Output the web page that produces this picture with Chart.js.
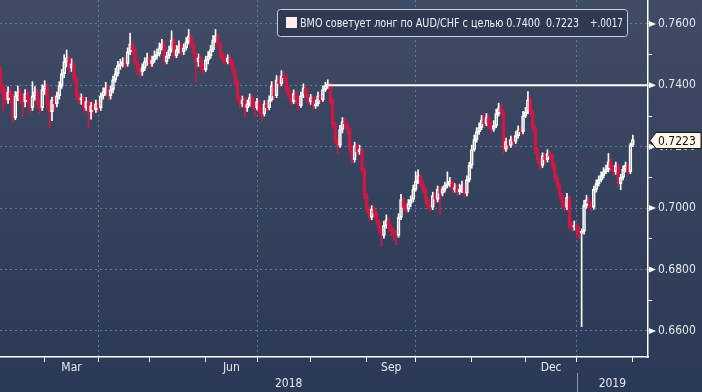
<!DOCTYPE html>
<html><head><meta charset="utf-8">
<script src="https://cdn.jsdelivr.net/npm/chart.js@4/dist/chart.umd.min.js"></script>
<style>html,body{margin:0;padding:0;background:#2b3a56;overflow:hidden}canvas{display:block}</style>
</head><body>
<canvas id="c" width="702" height="392"></canvas>
<script>
// ---- DATA (daily AUD/CHF, trading days from 5 Feb 2018 to 1 Feb 2019) ----
const seriesTitle = 'BMO советует лонг по AUD/CHF с целью 0.7400';
const targetLevel = 0.7400;
const targetStartIdx = 134;
const opens = [
0.7444,0.7392,0.7369,0.7353,0.7379,0.7360,0.7295,0.7366,0.7379,0.7363,
0.7347,0.7373,0.7353,0.7327,0.7366,0.7379,0.7340,0.7327,0.7386,0.7399,
0.7340,0.7314,0.7353,0.7340,0.7366,0.7399,0.7438,0.7477,0.7490,0.7457,
0.7470,0.7425,0.7366,0.7353,0.7360,0.7327,0.7347,0.7314,0.7334,0.7321,
0.7340,0.7327,0.7366,0.7379,0.7392,0.7366,0.7386,0.7418,0.7438,0.7464,
0.7470,0.7477,0.7470,0.7509,0.7535,0.7516,0.7477,0.7451,0.7444,0.7457,
0.7477,0.7490,0.7470,0.7483,0.7496,0.7503,0.7522,0.7535,0.7477,0.7496,
0.7516,0.7548,0.7496,0.7516,0.7529,0.7509,0.7522,0.7542,0.7561,0.7535,
0.7503,0.7477,0.7490,0.7464,0.7451,0.7483,0.7496,0.7516,0.7548,0.7561,
0.7535,0.7496,0.7483,0.7477,0.7490,0.7477,0.7451,0.7412,0.7360,0.7340,
0.7353,0.7327,0.7340,0.7360,0.7340,0.7327,0.7347,0.7314,0.7308,0.7340,
0.7327,0.7353,0.7399,0.7366,0.7418,0.7405,0.7431,0.7425,0.7386,0.7366,
0.7347,0.7373,0.7353,0.7334,0.7366,0.7392,0.7366,0.7347,0.7360,0.7334,
0.7340,0.7366,0.7353,0.7386,0.7399,0.7405,0.7353,0.7275,0.7223,0.7204,
0.7256,0.7282,0.7275,0.7256,0.7191,0.7158,0.7204,0.7184,0.7191,0.7126,
0.7041,0.6996,0.6970,0.6996,0.6983,0.6957,0.6931,0.6911,0.6944,0.6963,
0.6937,0.6924,0.6918,0.6911,0.6970,0.7028,0.7002,0.6996,0.7015,0.7028,
0.7061,0.7087,0.7106,0.7080,0.7061,0.7028,0.7009,0.7002,0.7041,0.7028,
0.7061,0.7048,0.7061,0.7074,0.7080,0.7087,0.7061,0.7067,0.7054,0.7061,
0.7074,0.7048,0.7093,0.7139,0.7191,0.7223,0.7249,0.7262,0.7288,0.7275,
0.7295,0.7275,0.7256,0.7269,0.7308,0.7327,0.7314,0.7191,0.7217,0.7204,
0.7223,0.7217,0.7236,0.7256,0.7249,0.7301,0.7314,0.7353,0.7314,0.7262,
0.7191,0.7158,0.7139,0.7171,0.7158,0.7178,0.7171,0.7139,0.7100,0.7074,
0.7041,0.7015,0.7002,0.7035,0.6944,0.6937,0.6944,0.6931,0.6918,0.6924,
0.7009,0.7028,0.7015,0.7002,0.7061,0.7080,0.7093,0.7106,0.7119,0.7126,
0.7152,0.7132,0.7119,0.7139,0.7080,0.7100,0.7126,0.7139,0.7119,0.7206];
const closes = [
0.7392,0.7369,0.7353,0.7379,0.7360,0.7295,0.7366,0.7379,0.7363,0.7347,
0.7373,0.7353,0.7327,0.7366,0.7379,0.7340,0.7327,0.7386,0.7399,0.7340,
0.7314,0.7353,0.7340,0.7366,0.7399,0.7438,0.7477,0.7490,0.7457,0.7470,
0.7425,0.7366,0.7353,0.7360,0.7327,0.7347,0.7314,0.7334,0.7321,0.7340,
0.7327,0.7366,0.7379,0.7392,0.7366,0.7386,0.7418,0.7438,0.7464,0.7470,
0.7477,0.7470,0.7509,0.7535,0.7516,0.7477,0.7451,0.7444,0.7457,0.7477,
0.7490,0.7470,0.7483,0.7496,0.7503,0.7522,0.7535,0.7477,0.7496,0.7516,
0.7548,0.7496,0.7516,0.7529,0.7509,0.7522,0.7542,0.7561,0.7535,0.7503,
0.7477,0.7490,0.7464,0.7451,0.7483,0.7496,0.7516,0.7548,0.7561,0.7535,
0.7496,0.7483,0.7477,0.7490,0.7477,0.7451,0.7412,0.7360,0.7340,0.7353,
0.7327,0.7340,0.7360,0.7340,0.7327,0.7347,0.7314,0.7308,0.7340,0.7327,
0.7353,0.7399,0.7366,0.7418,0.7405,0.7431,0.7425,0.7386,0.7366,0.7347,
0.7373,0.7353,0.7334,0.7366,0.7392,0.7366,0.7347,0.7360,0.7334,0.7340,
0.7366,0.7353,0.7386,0.7399,0.7405,0.7353,0.7275,0.7223,0.7204,0.7256,
0.7282,0.7275,0.7256,0.7191,0.7158,0.7204,0.7184,0.7191,0.7126,0.7041,
0.6996,0.6970,0.6996,0.6983,0.6957,0.6931,0.6911,0.6944,0.6963,0.6937,
0.6924,0.6918,0.6911,0.6970,0.7028,0.7002,0.6996,0.7015,0.7028,0.7061,
0.7087,0.7106,0.7080,0.7061,0.7028,0.7009,0.7002,0.7041,0.7028,0.7061,
0.7048,0.7061,0.7074,0.7080,0.7087,0.7061,0.7067,0.7054,0.7061,0.7074,
0.7048,0.7093,0.7139,0.7191,0.7223,0.7249,0.7262,0.7288,0.7275,0.7295,
0.7275,0.7256,0.7269,0.7308,0.7327,0.7314,0.7191,0.7217,0.7204,0.7223,
0.7217,0.7236,0.7256,0.7249,0.7301,0.7314,0.7353,0.7314,0.7262,0.7191,
0.7158,0.7139,0.7171,0.7158,0.7178,0.7171,0.7139,0.7100,0.7074,0.7041,
0.7015,0.7002,0.7035,0.6944,0.6937,0.6944,0.6931,0.6918,0.6924,0.7009,
0.7028,0.7015,0.7002,0.7061,0.7080,0.7093,0.7106,0.7119,0.7126,0.7152,
0.7132,0.7119,0.7139,0.7080,0.7100,0.7126,0.7139,0.7119,0.7206,0.7223];
const highs = [
0.7462,0.7405,0.7388,0.7395,0.7392,0.7372,0.7380,0.7398,0.7390,0.7371,
0.7386,0.7382,0.7360,0.7412,0.7396,0.7388,0.7352,0.7402,0.7415,0.7405,
0.7348,0.7362,0.7370,0.7378,0.7412,0.7452,0.7500,0.7515,0.7498,0.7486,
0.7478,0.7430,0.7375,0.7372,0.7366,0.7360,0.7352,0.7345,0.7348,0.7352,
0.7350,0.7375,0.7392,0.7410,0.7400,0.7398,0.7430,0.7455,0.7478,0.7485,
0.7490,0.7492,0.7522,0.7570,0.7545,0.7522,0.7482,0.7460,0.7470,0.7490,
0.7505,0.7498,0.7495,0.7512,0.7518,0.7538,0.7550,0.7545,0.7508,0.7528,
0.7578,0.7555,0.7530,0.7545,0.7538,0.7535,0.7556,0.7582,0.7568,0.7540,
0.7510,0.7502,0.7496,0.7472,0.7495,0.7510,0.7530,0.7562,0.7582,0.7568,
0.7540,0.7505,0.7495,0.7500,0.7498,0.7482,0.7458,0.7418,0.7368,0.7365,
0.7360,0.7352,0.7372,0.7368,0.7350,0.7358,0.7352,0.7325,0.7350,0.7348,
0.7366,0.7412,0.7405,0.7432,0.7428,0.7448,0.7446,0.7432,0.7395,0.7375,
0.7385,0.7380,0.7362,0.7378,0.7405,0.7398,0.7372,0.7370,0.7366,0.7352,
0.7378,0.7375,0.7398,0.7410,0.7418,0.7410,0.7358,0.7280,0.7230,0.7270,
0.7295,0.7292,0.7282,0.7262,0.7198,0.7215,0.7212,0.7205,0.7196,0.7132,
0.7048,0.7005,0.7008,0.7004,0.6990,0.6962,0.6938,0.6958,0.6978,0.6970,
0.6945,0.6935,0.6928,0.6982,0.7045,0.7035,0.7015,0.7028,0.7040,0.7075,
0.7118,0.7125,0.7112,0.7088,0.7068,0.7035,0.7018,0.7052,0.7050,0.7072,
0.7070,0.7070,0.7085,0.7118,0.7100,0.7092,0.7080,0.7075,0.7078,0.7088,
0.7082,0.7105,0.7150,0.7205,0.7238,0.7262,0.7278,0.7302,0.7310,0.7308,
0.7302,0.7282,0.7285,0.7322,0.7342,0.7338,0.7320,0.7228,0.7225,0.7235,
0.7232,0.7250,0.7268,0.7265,0.7315,0.7328,0.7380,0.7362,0.7320,0.7268,
0.7198,0.7165,0.7180,0.7178,0.7190,0.7185,0.7176,0.7145,0.7105,0.7080,
0.7048,0.7022,0.7048,0.7040,0.6955,0.6958,0.6950,0.6940,0.6932,0.7025,
0.7042,0.7035,0.7020,0.7072,0.7092,0.7105,0.7118,0.7132,0.7140,0.7178,
0.7160,0.7140,0.7150,0.7145,0.7110,0.7138,0.7150,0.7145,0.7212,0.7238];
const lows = [
0.7378,0.7315,0.7336,0.7341,0.7344,0.7282,0.7288,0.7350,0.7338,0.7298,
0.7330,0.7340,0.7310,0.7318,0.7352,0.7325,0.7308,0.7318,0.7370,0.7322,
0.7262,0.7285,0.7320,0.7330,0.7355,0.7390,0.7425,0.7460,0.7440,0.7445,
0.7410,0.7355,0.7340,0.7338,0.7312,0.7318,0.7262,0.7290,0.7305,0.7312,
0.7315,0.7318,0.7355,0.7368,0.7350,0.7355,0.7375,0.7410,0.7430,0.7452,
0.7460,0.7458,0.7462,0.7500,0.7500,0.7465,0.7435,0.7425,0.7432,0.7448,
0.7465,0.7458,0.7462,0.7475,0.7485,0.7495,0.7515,0.7465,0.7470,0.7488,
0.7508,0.7485,0.7490,0.7505,0.7498,0.7500,0.7515,0.7535,0.7522,0.7490,
0.7412,0.7462,0.7450,0.7438,0.7445,0.7470,0.7488,0.7510,0.7540,0.7525,
0.7488,0.7475,0.7468,0.7470,0.7466,0.7440,0.7400,0.7348,0.7325,0.7330,
0.7295,0.7315,0.7332,0.7326,0.7300,0.7320,0.7300,0.7282,0.7300,0.7315,
0.7320,0.7348,0.7355,0.7360,0.7395,0.7398,0.7412,0.7375,0.7355,0.7335,
0.7340,0.7340,0.7320,0.7328,0.7360,0.7355,0.7335,0.7338,0.7322,0.7325,
0.7332,0.7342,0.7348,0.7380,0.7390,0.7340,0.7262,0.7210,0.7178,0.7198,
0.7245,0.7262,0.7242,0.7180,0.7145,0.7150,0.7172,0.7175,0.7115,0.7030,
0.6985,0.6958,0.6962,0.6970,0.6945,0.6918,0.6875,0.6902,0.6935,0.6925,
0.6910,0.6895,0.6880,0.6905,0.6962,0.6990,0.6985,0.6988,0.7005,0.7020,
0.7055,0.7080,0.7070,0.7050,0.7015,0.6996,0.6990,0.6995,0.7015,0.7020,
0.6978,0.7040,0.7052,0.7066,0.7070,0.7050,0.7052,0.7042,0.7045,0.7050,
0.7035,0.7040,0.7085,0.7130,0.7185,0.7215,0.7240,0.7255,0.7262,0.7268,
0.7260,0.7245,0.7250,0.7262,0.7300,0.7305,0.7180,0.7185,0.7195,0.7198,
0.7205,0.7210,0.7228,0.7240,0.7242,0.7295,0.7308,0.7305,0.7250,0.7180,
0.7145,0.7125,0.7132,0.7145,0.7150,0.7160,0.7128,0.7090,0.7062,0.7030,
0.7002,0.6990,0.6995,0.6932,0.6925,0.6928,0.6905,0.6900,0.6614,0.6915,
0.7000,0.7005,0.6990,0.6996,0.7052,0.7072,0.7085,0.7098,0.7112,0.7118,
0.7122,0.7108,0.7110,0.7070,0.7060,0.7092,0.7118,0.7110,0.7112,0.7200];
// axis categories (trading-day index of the first trading day of each month)
const monthNames    = ['Mar','Apr','May','Jun','Jul','Aug','Sep','Oct','Nov','Dec','Jan','Feb'];
const monthStartIdx = [18, 40, 61, 84, 105, 127, 150, 170, 193, 215, 236, 259];
const labeledMonths = ['Mar','Jun','Sep','Dec'];
const quarterStartIdx = [40, 105, 170, 236];
const yearNames = ['2018','2019'];
const yearStartIdx = [0, 236];
const yTickValues = [0.66,0.67,0.68,0.69,0.70,0.71,0.72,0.73,0.74,0.75,0.76];

// ---- styling ----
const X_MIN = -0.3, X_MAX = 265.2, Y_MIN = 0.6515, Y_MAX = 0.7678;
const RED = '#d01844';
const WHITE = '#ffffff';
const GRID = 'rgba(110,140,180,0.75)';
const TXT = '#e6e9ef';
const FAM = "'DejaVu Sans Condensed','Liberation Sans Narrow','DejaVu Sans',sans-serif";

const N = closes.length;
const idx = closes.map((_, i) => i);
const isUp = i => closes[i] >= opens[i];
const isMajorY = v => Math.round(v * 100) % 2 === 0;

const bodyData  = idx.map(i => ({x: i, y: [opens[i], closes[i]]}));
const upperData = idx.map(i => ({x: i, y: [Math.max(opens[i], closes[i]), highs[i]]}));
const lowerData = idx.map(i => ({x: i, y: [lows[i], Math.min(opens[i], closes[i])]}));
const colorOf = c => isUp(c.dataIndex) ? WHITE : RED;
const noPad = s => { s.paddingTop = 0; s.paddingBottom = 0; s.paddingLeft = 0; s.paddingRight = 0; };

const bgPlugin = {
  id: 'bg',
  beforeDraw(chart) {
    const {ctx, width, height} = chart;
    const g = ctx.createLinearGradient(0, 0, 0, height);
    g.addColorStop(0, '#404b65');
    g.addColorStop(1, '#2a3956');
    ctx.save(); ctx.fillStyle = g; ctx.fillRect(0, 0, width, height); ctx.restore();
  }
};

const decorPlugin = {
  id: 'decor',
  afterDraw(chart) {
    const {ctx, chartArea: ca, scales: {x, y}} = chart;
    ctx.save();
    ctx.fillStyle = WHITE;
    yTickValues.forEach(v => {
      if (!isMajorY(v)) return;
      const py = y.getPixelForValue(v);
      ctx.beginPath();
      ctx.moveTo(ca.right + 1, py - 3);
      ctx.lineTo(ca.right + 8, py);
      ctx.lineTo(ca.right + 1, py + 3);
      ctx.closePath(); ctx.fill();
    });
    ctx.font = '12px ' + FAM;
    ctx.fillStyle = TXT;
    ctx.textAlign = 'center';
    ctx.textBaseline = 'middle';
    labeledMonths.forEach(m => {
      const k = monthNames.indexOf(m);
      const c = (monthStartIdx[k] + monthStartIdx[k + 1]) / 2;
      ctx.fillText(m, x.getPixelForValue(c), ca.bottom + 11);
    });
    yearNames.forEach((yr, k) => {
      const s = yearStartIdx[k];
      const e = k + 1 < yearStartIdx.length ? yearStartIdx[k + 1] : X_MAX;
      ctx.fillText(yr, x.getPixelForValue((s + e) / 2), ca.bottom + 27);
      if (k > 0) {
        const px = Math.round(x.getPixelForValue(s)) + 0.5;
        ctx.strokeStyle = '#8d97ab'; ctx.lineWidth = 1;
        ctx.beginPath(); ctx.moveTo(px, ca.bottom + 16); ctx.lineTo(px, chart.height); ctx.stroke();
      }
    });
    const bx = 277.5, by = 9.5, bw = 350, bh = 27, r = 3;
    ctx.beginPath();
    ctx.moveTo(bx + r, by); ctx.lineTo(bx + bw - r, by); ctx.quadraticCurveTo(bx + bw, by, bx + bw, by + r);
    ctx.lineTo(bx + bw, by + bh - r); ctx.quadraticCurveTo(bx + bw, by + bh, bx + bw - r, by + bh);
    ctx.lineTo(bx + r, by + bh); ctx.quadraticCurveTo(bx, by + bh, bx, by + bh - r);
    ctx.lineTo(bx, by + r); ctx.quadraticCurveTo(bx, by, bx + r, by);
    ctx.closePath();
    ctx.fillStyle = '#2f3a52'; ctx.fill();
    ctx.strokeStyle = '#c9ced8'; ctx.lineWidth = 1; ctx.stroke();
    ctx.fillStyle = '#fdeee8';
    ctx.fillRect(286, 17, 11, 11);
    const last = closes[N - 1], prev = closes[N - 2];
    const ch = last - prev;
    const chTxt = (ch >= 0 ? '+' : '-') + Math.abs(ch).toFixed(4).replace(/^0/, '');
    ctx.fillStyle = '#eef0f4';
    ctx.textAlign = 'left';
    ctx.textBaseline = 'alphabetic';
    ctx.font = '12px ' + FAM;
    ctx.fillText(seriesTitle, 300, 27, 240);
    ctx.fillText(last.toFixed(4), 546, 27, 33);
    ctx.fillText(chTxt, 590, 27, 33);
    const cy = Math.round(y.getPixelForValue(last)) + 0.5;
    ctx.beginPath();
    ctx.moveTo(ca.right + 2, cy);
    ctx.lineTo(ca.right + 8, cy - 8);
    ctx.lineTo(701, cy - 8);
    ctx.lineTo(701, cy + 8);
    ctx.lineTo(ca.right + 8, cy + 8);
    ctx.closePath();
    ctx.fillStyle = '#fff6ea'; ctx.fill();
    ctx.strokeStyle = '#1a1a1a'; ctx.lineWidth = 1; ctx.stroke();
    ctx.fillStyle = '#111';
    ctx.textBaseline = 'middle';
    ctx.fillText(last.toFixed(4), ca.right + 10, cy + 1, 41);
    ctx.restore();
  }
};

new Chart(document.getElementById('c'), {
  type: 'bar',
  data: {
    datasets: [
      { type: 'line', data: [{x: targetStartIdx, y: targetLevel}, {x: X_MAX, y: targetLevel}],
        borderColor: WHITE, borderWidth: 2, pointRadius: 0, order: 0 },
      { data: bodyData, barThickness: 3, grouped: false, borderSkipped: false, borderWidth: 1,
        backgroundColor: c => isUp(c.dataIndex) ? 'rgba(0,0,0,0)' : RED,
        borderColor: colorOf, order: 1 },
      { data: upperData, barThickness: 1, grouped: false, borderWidth: 0,
        backgroundColor: colorOf, order: 2 },
      { data: lowerData, barThickness: 1, grouped: false, borderWidth: 0,
        backgroundColor: colorOf, order: 2 }
    ]
  },
  options: {
    responsive: false, animation: false, events: [],
    layout: { padding: 0 },
    plugins: { legend: { display: false }, tooltip: { enabled: false } },
    scales: {
      x: {
        type: 'linear', min: X_MIN, max: X_MAX, offset: false,
        afterBuildTicks: s => { s.ticks = monthStartIdx.map(v => ({value: v})); },
        afterFit: s => { s.height = 35; noPad(s); },
        grid: { offset: false,
                color: c => quarterStartIdx.includes(c.tick && c.tick.value) ? GRID : 'rgba(0,0,0,0)',
                lineWidth: 1, tickLength: 5, tickColor: WHITE, tickWidth: 1 },
        border: { color: WHITE, width: 1.5, dash: [2, 3] },
        ticks: { autoSkip: false, maxRotation: 0, callback: () => '' }
      },
      y: {
        position: 'right', min: Y_MIN, max: Y_MAX,
        afterBuildTicks: s => { s.ticks = yTickValues.map(v => ({value: v})); },
        afterFit: s => { s.width = 54; noPad(s); },
        grid: { offset: false,
                color: c => (c.tick && isMajorY(c.tick.value)) ? GRID : 'rgba(0,0,0,0)',
                lineWidth: 1, tickLength: 4, tickColor: WHITE, tickWidth: 1 },
        border: { color: WHITE, width: 1.5, dash: [2, 3] },
        ticks: { autoSkip: false, padding: 6, color: TXT, font: { family: FAM, size: 12 },
                 callback: v => isMajorY(v) ? v.toFixed(4) : '' }
      }
    }
  },
  plugins: [bgPlugin, decorPlugin]
});
</script>
</body></html>
